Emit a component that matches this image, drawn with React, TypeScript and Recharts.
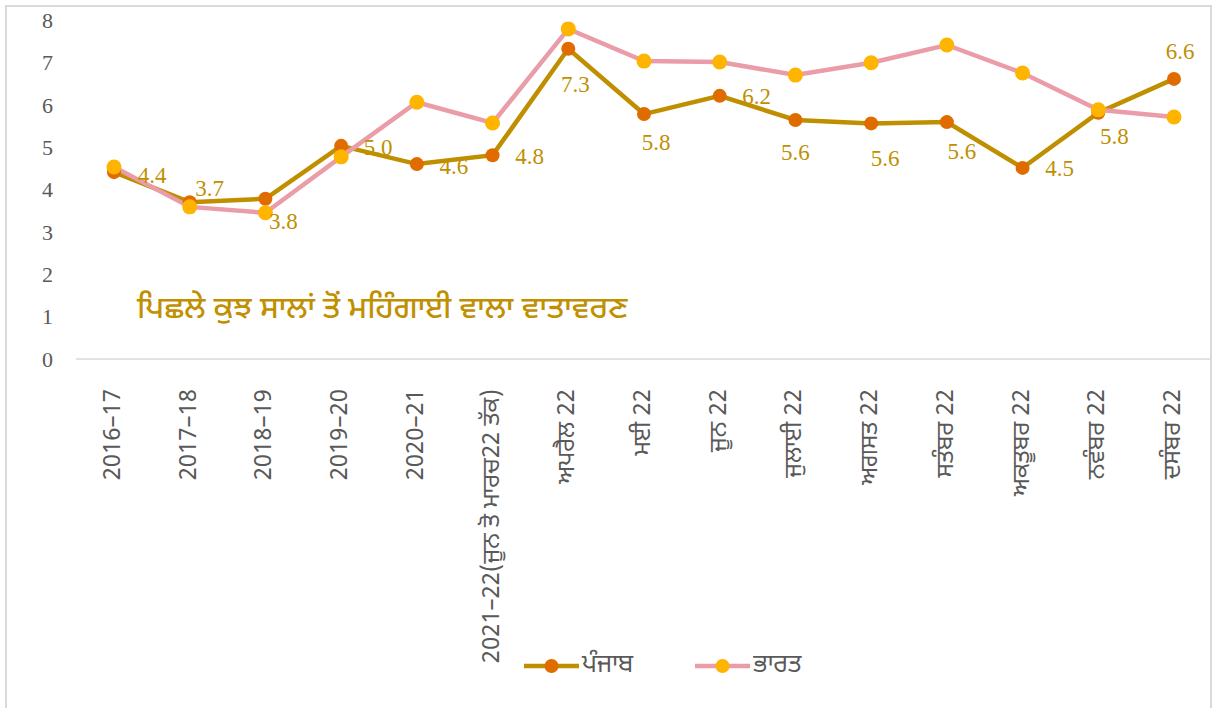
import { CartesianGrid, Legend, LabelList, Line, LineChart, XAxis, YAxis } from 'recharts'

const categories = [
  '2016–17',
  '2017–18',
  '2018–19',
  '2019–20',
  '2020–21',
  '2021–22(ਜੂਨ ਤੋ ਮਾਰਚ22 ਤੱਕ)',
  'ਅਪਰੈਲ 22',
  'ਮਈ 22',
  'ਜੂਨ 22',
  'ਜੁਲਾਈ 22',
  'ਅਗਸਤ 22',
  'ਸਤੰਬਰ 22',
  'ਅਕਤੂਬਰ 22',
  'ਨਵੰਬਰ 22',
  'ਦਸੰਬਰ 22',
]

const punjab = [4.41, 3.7, 3.78, 5.03, 4.6, 4.81, 7.32, 5.78, 6.21, 5.64, 5.56, 5.59, 4.51, 5.81, 6.61]
const bharat = [4.53, 3.59, 3.45, 4.77, 6.06, 5.57, 7.79, 7.03, 7.01, 6.7, 6.99, 7.41, 6.75, 5.88, 5.71]

const yTicks = [0, 1, 2, 3, 4, 5, 6, 7, 8]

const seriesNames = { punjab: 'ਪੰਜਾਬ', bharat: 'ਭਾਰਤ' }
const note = 'ਪਿਛਲੇ ਕੁਝ ਸਾਲਾਂ ਤੋਂ ਮਹਿੰਗਾਈ ਵਾਲਾ ਵਾਤਾਵਰਣ'

// where each Punjab label sits relative to its point (label centre offset, px)
const labelOffsets: [number, number][] = [
  [38, 3], [20, -14], [18, 23], [37, 2], [37, 2], [37, 1], [7, 36], [12, 28],
  [37, 1], [0, 32], [14, 35], [15, 29], [37, 1], [16, 24], [6, -27],
]

const data = categories.map((name, i) => ({ name, punjab: punjab[i], bharat: bharat[i] }))

const GOLD = '#BF8F00'
const ORANGE = '#E06C00'
const PINK = '#EA9CA8'
const AMBER = '#FFB400'
const GREY = '#595959'
const SANS = "'Noto Sans Gurmukhi', 'Liberation Sans', Arial, sans-serif"
const SERIF = "'Liberation Serif', 'Times New Roman', serif"

function XTick(props: any) {
  const { x, y, payload } = props
  return (
    <text
      transform={`translate(${x},${y + 30}) rotate(-90)`}
      textAnchor="end"
      dominantBaseline="central"
      fill={GREY}
      fontSize={24}
      fontFamily={SANS}
    >
      {payload.value}
    </text>
  )
}

function PointLabel(props: any) {
  const { x, y, value, index } = props
  const [dx, dy] = labelOffsets[index] ?? [0, -20]
  return (
    <text
      x={x + dx}
      y={y + dy}
      textAnchor="middle"
      dominantBaseline="central"
      fill={GOLD}
      fontSize={23}
      fontFamily={SERIF}
    >
      {Number(value).toFixed(1)}
    </text>
  )
}

function LegendItems() {
  const items = [
    { label: seriesNames.punjab, line: GOLD, dot: ORANGE },
    { label: seriesNames.bharat, line: PINK, dot: AMBER },
  ]
  return (
    <div style={{ display: 'flex', alignItems: 'center', gap: 62 }}>
      {items.map((it) => (
        <div key={it.label} style={{ display: 'flex', alignItems: 'center' }}>
          <svg width={55} height={20}>
            <line x1={0} y1={10} x2={55} y2={10} stroke={it.line} strokeWidth={4.5} />
            <circle cx={27.5} cy={10} r={7} fill={it.dot} />
          </svg>
          <span style={{ color: GREY, fontSize: 25, fontFamily: SANS, marginLeft: 3 }}>{it.label}</span>
        </div>
      ))}
    </div>
  )
}

export default function App() {
  return (
    <div style={{ position: 'absolute', left: 0, top: 0, width: 1212, height: 708, background: '#fff' }}>
      <div
        style={{
          position: 'absolute',
          left: 5,
          top: 5,
          width: 1207,
          height: 710,
          border: '2px solid #D9D9D9',
          boxSizing: 'border-box',
        }}
      />
      <LineChart width={1212} height={708} data={data} margin={{ top: 20, right: 0, left: 0, bottom: 99 }}>
        <CartesianGrid vertical={false} horizontal={false} />
        <XAxis
          dataKey="name"
          interval={0}
          height={250}
          padding={{ left: 38, right: 38 }}
          tickSize={0}
          tickMargin={0}
          tick={<XTick />}
          axisLine={{ stroke: '#D9D9D9', strokeWidth: 1.5 }}
          tickLine={false}
        />
        <YAxis
          width={76}
          domain={[0, 8]}
          ticks={yTicks}
          interval={0}
          tickSize={0}
          tickMargin={23}
          axisLine={false}
          tickLine={false}
          tick={{ fill: GREY, fontSize: 22, fontFamily: SERIF }}
        />
        <Legend
          verticalAlign="middle"
          layout="horizontal"
          wrapperStyle={{ top: 650, left: 524, width: 'auto' }}
          content={() => <LegendItems />}
        />
        <Line
          dataKey="punjab"
          name={seriesNames.punjab}
          stroke={GOLD}
          strokeWidth={4.5}
          dot={{ r: 7, fill: ORANGE, stroke: ORANGE, strokeWidth: 0 }}
          activeDot={false}
          isAnimationActive={false}
        >
          <LabelList dataKey="punjab" content={<PointLabel />} />
        </Line>
        <Line
          dataKey="bharat"
          name={seriesNames.bharat}
          stroke={PINK}
          strokeWidth={4.5}
          dot={{ r: 7.5, fill: AMBER, stroke: AMBER, strokeWidth: 0 }}
          activeDot={false}
          isAnimationActive={false}
        />
      </LineChart>
      <div
        style={{
          position: 'absolute',
          left: 137,
          top: 295,
          color: '#C09000',
          fontSize: 31,
          lineHeight: '32px',
          fontWeight: 500,
          fontFamily: SANS,
          whiteSpace: 'nowrap',
        }}
      >
        {note}
      </div>
    </div>
  )
}
